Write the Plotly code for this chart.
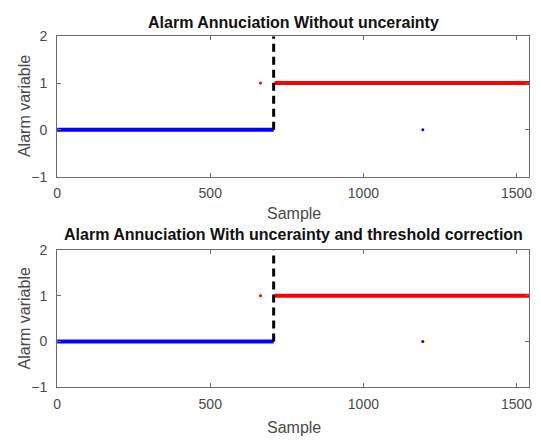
import plotly.graph_objects as go

# ---- data ----
titles = ["Alarm Annuciation Without uncerainty",
          "Alarm Annuciation With uncerainty and threshold correction"]
x_ticks = [0, 500, 1000, 1500]
y_ticks = [-1, 0, 1, 2]
x_range = [0, 1542]
y_range = [-1, 2]

# panel 1
p1_normal_x = [0, 707]
p1_normal_y = [0, 0]
p1_alarm_x = [710, 1542]
p1_alarm_y = [1, 1]
p1_false_alarm_x = [664]
p1_false_alarm_y = [1]
p1_missed_x = [1194]
p1_missed_y = [0]
p1_change_x = [707, 707]
p1_change_y = [0, 2]

# panel 2
p2_normal_x = [0, 707]
p2_normal_y = [0, 0]
p2_alarm_x = [710, 1542]
p2_alarm_y = [1, 1]
p2_false_alarm_x = [664]
p2_false_alarm_y = [1]
p2_missed_x = [1194]
p2_missed_y = [0]
p2_change_x = [707, 707]
p2_change_y = [0, 2]

W, H = 541, 444
FONT = "Liberation Sans, Arial, sans-serif"
AX = "#6a6a6a"
TXT = "#4a4a4a"

fig = go.Figure()

panels = [
    (p1_normal_x, p1_normal_y, p1_alarm_x, p1_alarm_y, p1_false_alarm_x, p1_false_alarm_y,
     p1_missed_x, p1_missed_y, p1_change_x, p1_change_y, "x", "y"),
    (p2_normal_x, p2_normal_y, p2_alarm_x, p2_alarm_y, p2_false_alarm_x, p2_false_alarm_y,
     p2_missed_x, p2_missed_y, p2_change_x, p2_change_y, "x2", "y2"),
]
for (nx, ny, ax_, ay, fx, fy, mx, my, cx, cy, xa, ya) in panels:
    fig.add_trace(go.Scatter(x=nx, y=ny, mode="lines", line=dict(color="#0000ff", width=4),
                             xaxis=xa, yaxis=ya, showlegend=False))
    fig.add_trace(go.Scatter(x=ax_, y=ay, mode="lines", line=dict(color="#ff0000", width=4),
                             xaxis=xa, yaxis=ya, showlegend=False))
    fig.add_trace(go.Scatter(x=fx, y=fy, mode="markers", marker=dict(color="#ff0000", size=3),
                             xaxis=xa, yaxis=ya, showlegend=False))
    fig.add_trace(go.Scatter(x=mx, y=my, mode="markers", marker=dict(color="#0000ff", size=3),
                             xaxis=xa, yaxis=ya, showlegend=False))
    fig.add_trace(go.Scatter(x=cx, y=cy, mode="lines",
                             line=dict(color="#000000", width=3, dash="8px,5px"),
                             xaxis=xa, yaxis=ya, showlegend=False))

xdom = [53.8 / W, 532.3 / W]
ydom1 = [1 - 175 / H, 1 - 29.3 / H]
ydom2 = [1 - 393.3 / H, 1 - 251.3 / H]

common_x = dict(range=x_range, tickvals=x_ticks, ticks="inside", ticklen=4, tickcolor=AX,
                showline=True, linecolor=AX, linewidth=1, mirror="ticks", showgrid=False,
                zeroline=False, tickfont=dict(family=FONT, size=14, color=TXT),
                ticklabelstandoff=4, domain=xdom, fixedrange=True)
common_y = dict(range=y_range, tickvals=y_ticks, ticks="inside", ticklen=4, tickcolor=AX,
                showline=True, linecolor=AX, linewidth=1, mirror="ticks", showgrid=False,
                zeroline=False, tickfont=dict(family=FONT, size=14, color=TXT),
                ticklabelstandoff=6, fixedrange=True)

fig.update_layout(
    width=W, height=H, margin=dict(l=0, r=0, t=0, b=0),
    paper_bgcolor="white", plot_bgcolor="white",
    xaxis=dict(**common_x, anchor="y"),
    yaxis=dict(**common_y, domain=ydom1, anchor="x"),
    xaxis2=dict(**common_x, anchor="y2"),
    yaxis2=dict(**common_y, domain=ydom2, anchor="x2"),
)

xc = (xdom[0] + xdom[1]) / 2
ann = []
for title, ty, sy, ly in [(titles[0], 15, 213, 102), (titles[1], 235, 435, 322.3)]:
    ann.append(dict(text="<b>%s</b>" % title, x=xc, y=1 - ty / H, xref="paper", yref="paper",
                    xanchor="center", yanchor="middle", showarrow=False,
                    font=dict(family=FONT, size=16, color="#111111")))
    ann.append(dict(text="Sample", x=294 / W, y=1 - sy / H, xref="paper", yref="paper",
                    xanchor="center", yanchor="middle", showarrow=False,
                    font=dict(family=FONT, size=16, color=TXT)))
    ann.append(dict(text="Alarm variable", x=21 / W, y=1 - ly / H, xref="paper", yref="paper",
                    xanchor="center", yanchor="middle", showarrow=False, textangle=-90,
                    font=dict(family=FONT, size=16, color=TXT)))
fig.update_layout(annotations=ann)

fig.write_html("out.html")
